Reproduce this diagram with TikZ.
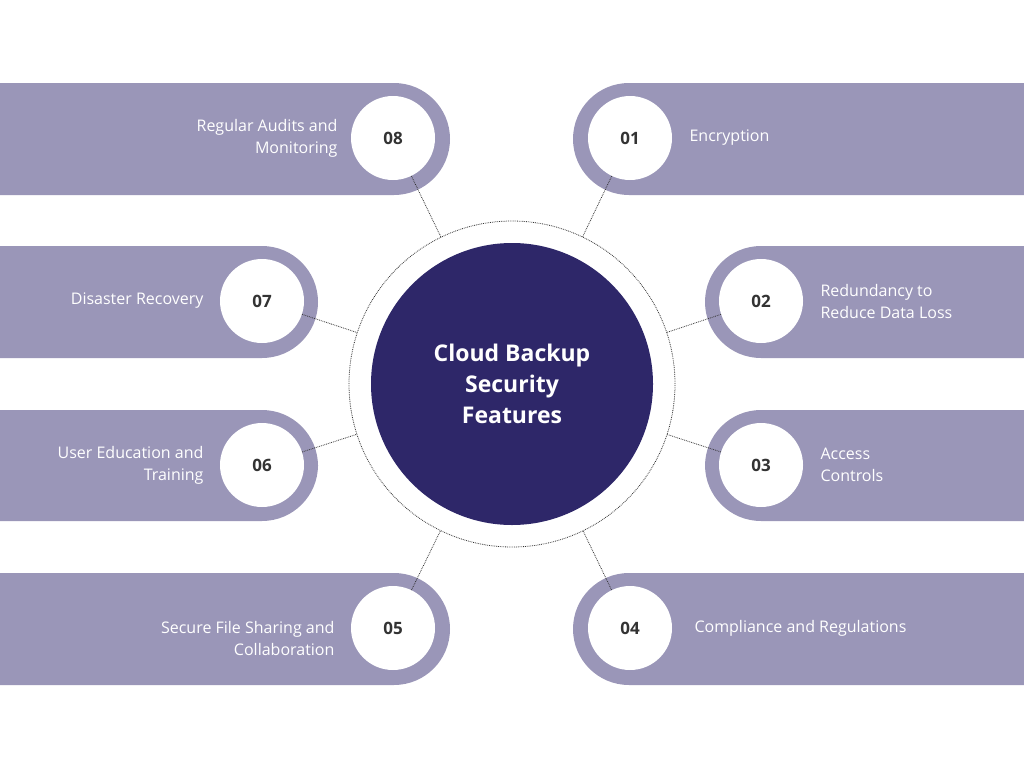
\documentclass[tikz,border=0pt]{standalone}
\usepackage{fontspec}
\setmainfont{Open Sans}
\usetikzlibrary{positioning}
\definecolor{barcol}{HTML}{9A96B8}
\definecolor{navy}{HTML}{2E2769}
\definecolor{numcol}{HTML}{333333}
\tikzset{
  bar/.style={fill=barcol, rounded corners=56pt},
  num/.style={circle, fill=white, minimum size=84pt, inner sep=0pt, text=numcol, font=\fontsize{17}{20}\selectfont\bfseries},
  lbl/.style={text=white, font=\fontsize{16}{22}\selectfont, align=left},
  lblr/.style={text=white, font=\fontsize{16}{22}\selectfont, align=right},
  link/.style={densely dotted, thick, draw=numcol}
}
\begin{document}
\begin{tikzpicture}[x=1pt,y=-1pt]
    \useasboundingbox (0,0) rectangle (1024,768);
    \fill[white] (0,0) rectangle (1024,768);
    % bars
    \fill[bar] (573,83) rectangle (1150,195);
    \fill[bar] (705,246) rectangle (1150,358);
    \fill[bar] (705,410) rectangle (1150,521);
    \fill[bar] (573,573) rectangle (1150,685);
    \fill[bar] (-150,83) rectangle (450,195);
    \fill[bar] (-150,246) rectangle (318,358);
    \fill[bar] (-150,410) rectangle (318,521);
    \fill[bar] (-150,573) rectangle (450,685);
    % centre
    \node[circle, draw=numcol, densely dotted, thick, minimum size=326pt] (ring) at (512,384) {};
    \node[circle, fill=navy, minimum size=282pt, text=white, align=center,
          font=\fontsize{23}{31}\selectfont\bfseries] (hub) at (512,384) {Cloud Backup\\Security\\Features};
    % numbers
    \node[num] (n01) at (630,138) {01};
    \node[num] (n02) at (761,301) {02};
    \node[num] (n03) at (761,465) {03};
    \node[num] (n04) at (630,628) {04};
    \node[num] (n05) at (393,628) {05};
    \node[num] (n06) at (262,465) {06};
    \node[num] (n07) at (262,301) {07};
    \node[num] (n08) at (393,138) {08};
    % labels
    \node[lbl, anchor=west] (t01) at (686,138) {Encryption};
    \node[lbl, anchor=west] (t02) at (817,301) {Redundancy to\\Reduce Data Loss};
    \node[lbl, anchor=west] (t03) at (817,465) {Access\\Controls};
    \node[lbl, anchor=west] (t04) at (691,628) {Compliance and Regulations};
    \node[lblr, anchor=east] (t05) at (338,638) {Secure File Sharing and\\Collaboration};
    \node[lblr, anchor=east] (t06) at (207,465) {User Education and\\Training};
    \node[lblr, anchor=east] (t07) at (207,301) {Disaster Recovery};
    \node[lblr, anchor=east] (t08) at (341,138) {Regular Audits and\\Monitoring};
    % links
    \foreach \n in {01,02,03,04,05,06,07,08}
        \draw[link] (n\n) -- (ring);
\end{tikzpicture}
\end{document}
